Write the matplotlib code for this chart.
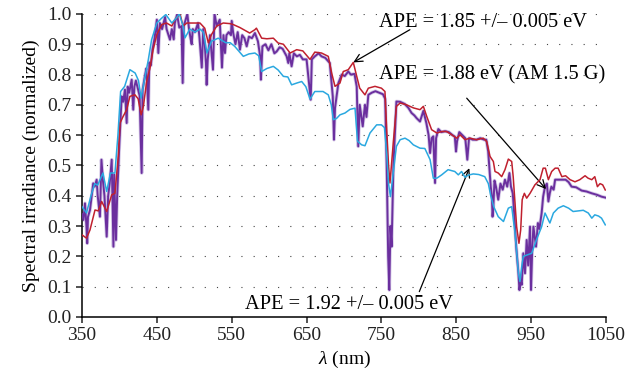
import numpy as np
import matplotlib
matplotlib.use("Agg")
from matplotlib import pyplot as plt

plt.rcParams['font.family'] = ['Liberation Serif', 'DejaVu Serif']
plt.rcParams['mathtext.fontset'] = 'custom'
plt.rcParams['mathtext.it'] = 'Liberation Serif:italic'
plt.rcParams['mathtext.rm'] = 'Liberation Serif'

# spectrum with APE = 1.92 eV (cyan)
wl_cyan = [350, 356, 362, 367, 371, 378, 383, 388, 394, 398, 401.6, 407, 414, 421, 425.5, 429,
           434, 438.6, 443, 450, 456, 462, 470, 476.5, 480, 485, 487.6, 494, 501, 507.6, 512,
           517, 523, 532, 542, 548, 554, 565.5, 573, 581, 586, 590, 597, 605.6, 612, 619, 625,
           630, 637, 643.5, 649, 654.6, 661, 672, 679, 683, 685.7, 690, 694.6, 701.3, 708,
           714.7, 718, 723.6, 728, 734.7, 743.6, 750, 754, 757, 759.5, 762, 765, 770, 775,
           781.5, 787, 792.6, 801.5, 808, 815, 819.3, 824, 830.5, 839, 848, 852.7, 857, 861.6,
           866, 872.7, 880, 888, 892.8, 896, 900, 906, 913, 919.5, 924, 928.5, 933, 935, 937.4,
           939.5, 945, 950.7, 957, 964, 968.5, 973, 975, 979.7, 986, 993, 1000, 1006, 1013,
           1019.6, 1026.3, 1031, 1035, 1040, 1044, 1049]
val_cyan = [0.364, 0.343, 0.40, 0.44, 0.435, 0.475, 0.414, 0.475, 0.475, 0.60, 0.744, 0.761,
            0.816, 0.805, 0.78, 0.722, 0.79, 0.849, 0.915, 0.97, 0.985, 0.998, 0.97, 0.988, 1.0,
            0.96, 0.921, 0.95, 0.94, 0.95, 0.94, 0.871, 0.91, 0.92, 0.905, 0.905, 0.893, 0.86,
            0.868, 0.871, 0.862, 0.81, 0.82, 0.827, 0.815, 0.794, 0.792, 0.766, 0.772, 0.777,
            0.76, 0.719, 0.744, 0.744, 0.733, 0.70, 0.651, 0.655, 0.667, 0.673, 0.685, 0.689,
            0.58, 0.568, 0.565, 0.607, 0.634, 0.634, 0.625, 0.54, 0.44, 0.397, 0.46, 0.563,
            0.585, 0.59, 0.582, 0.568, 0.557, 0.556, 0.519, 0.458, 0.458, 0.469, 0.486, 0.48,
            0.469, 0.48, 0.461, 0.468, 0.472, 0.470, 0.463, 0.44, 0.40, 0.364, 0.331, 0.315,
            0.359, 0.364, 0.276, 0.144, 0.117, 0.166, 0.2, 0.205, 0.21, 0.254, 0.298, 0.343,
            0.32, 0.31, 0.343, 0.359, 0.367, 0.359, 0.348, 0.350, 0.352, 0.343, 0.326, 0.337,
            0.333, 0.326, 0.304]

# spectrum with APE = 1.85 eV (red)
wl_red = [350, 356, 360.7, 367.4, 371.8, 376.3, 383, 389.7, 394, 398.5, 400.8, 405, 409.7, 414,
          420.8, 425, 429, 432, 436.4, 440.8, 445, 450, 456.5, 463, 470, 474, 481, 485, 490,
          498.7, 507.6, 514, 518.7, 523, 530, 538.7, 547.7, 552, 561, 574, 581, 583, 590, 597,
          605.6, 612, 619, 628, 636.8, 645, 654.6, 661, 670, 679, 683.5, 688, 694.6, 699,
          705.7, 712.4, 717, 721, 728, 732.5, 741.4, 750, 754.7, 757, 759.5, 761.4, 765.8,
          770, 775, 783.7, 792.6, 801.5, 806, 810.5, 817, 824, 830.5, 837, 844, 850.5, 855,
          861.6, 868.3, 877, 886, 890.6, 895, 899.5, 901.7, 906, 910.6, 915, 919.5, 924, 926,
          930.6, 933.7, 936, 938, 940.9, 944, 948.5, 955, 961.8, 966, 969, 973, 977.4, 982,
          986, 991, 996, 1002, 1008.5, 1015, 1022, 1026, 1031, 1035, 1038.5, 1042, 1045.5, 1049]
val_red = [0.271, 0.26, 0.287, 0.353, 0.35, 0.381, 0.348, 0.403, 0.408, 0.53, 0.64, 0.662,
           0.684, 0.728, 0.733, 0.72, 0.667, 0.695, 0.777, 0.821, 0.882, 0.932, 0.965, 0.97,
           0.96, 0.981, 1.0, 0.96, 0.97, 0.97, 0.97, 0.953, 0.905, 0.932, 0.96, 0.97, 0.968,
           0.965, 0.955, 0.937, 0.948, 0.953, 0.92, 0.918, 0.92, 0.904, 0.9, 0.871, 0.882,
           0.878, 0.85, 0.874, 0.871, 0.86, 0.805, 0.761, 0.772, 0.81, 0.816, 0.84, 0.794,
           0.755, 0.733, 0.755, 0.761, 0.755, 0.744, 0.62, 0.50, 0.442, 0.574, 0.695, 0.706,
           0.70, 0.69, 0.684, 0.695, 0.662, 0.618, 0.607, 0.612, 0.612, 0.601, 0.59, 0.601,
           0.585, 0.59, 0.585, 0.59, 0.579, 0.53, 0.513, 0.48, 0.475, 0.463, 0.486, 0.521,
           0.513, 0.463, 0.298, 0.243, 0.287, 0.387, 0.408, 0.392, 0.408, 0.436, 0.453, 0.491,
           0.491, 0.453, 0.48, 0.491, 0.491, 0.463, 0.466, 0.453, 0.446, 0.453, 0.466, 0.458,
           0.453, 0.463, 0.43, 0.44, 0.436, 0.419]

# AM 1.5 G reference spectrum, APE = 1.88 eV (purple)
wl_am = [350, 352, 354, 356, 357, 358, 360.7, 363, 365, 367, 369.6, 371, 374, 376, 378, 380,
         383, 385, 387, 389.7, 392, 393, 395.4, 397, 400, 403, 405, 407.4, 409.7, 411, 413,
         416.4, 418.5, 420, 422, 425, 427, 429.7, 431, 434, 436, 438.6, 440, 442, 444, 447,
         450, 452, 454, 457, 461, 463, 467.5, 470, 472.5, 474, 477, 480, 483, 484.5, 486,
         490.7, 493, 495, 496.5, 498, 501, 505, 507, 510, 512, 514, 515.6, 516.5, 518, 521,
         525, 527, 530, 534, 537, 539, 541, 543, 546, 549, 550, 552, 555, 558, 561, 564, 567,
         570, 573, 577, 581, 585, 588, 589, 591, 595, 599, 603, 607, 610, 614, 618, 623.4,
         625.6, 627, 630, 633, 637, 641, 645, 650, 655.5, 657, 661, 666, 670, 675, 681, 685,
         686.6, 688, 692.5, 697, 701, 705.7, 709, 714, 717, 719, 721, 725, 728, 730, 732.5,
         737, 742, 747, 752, 755, 757, 759, 760.5, 762, 763.6, 766, 770, 775, 781, 786, 790.3,
         794, 797, 801.5, 806, 810, 813, 815, 817, 819.3, 821.6, 823, 826, 830, 835, 840, 845,
         848, 849.6, 851, 854, 858, 862, 864.7, 867, 872, 877, 882, 887, 890, 892.6, 894, 896,
         897.5, 898.4, 899.5, 901, 903, 906, 909, 912, 915, 918, 921, 923, 925.4, 927, 930,
         933, 934.3, 936, 937.4, 939.5, 941.8, 944, 946, 948.5, 949.8, 951.5, 953, 956.5, 959,
         961, 964, 966, 968.5, 971, 973, 975, 977, 980, 982, 986, 991, 996, 1000, 1004, 1010,
         1017.5, 1024, 1031, 1038, 1044, 1049]
val_am = [0.34, 0.32, 0.375, 0.298, 0.243, 0.33, 0.353, 0.40, 0.441, 0.43, 0.453, 0.40, 0.331,
          0.519, 0.45, 0.40, 0.265, 0.40, 0.44, 0.519, 0.232, 0.47, 0.254, 0.40, 0.574, 0.728,
          0.71, 0.75, 0.64, 0.76, 0.74, 0.783, 0.684, 0.76, 0.78, 0.75, 0.73, 0.475, 0.75,
          0.794, 0.82, 0.684, 0.84, 0.83, 0.88, 0.92, 0.981, 0.871, 0.97, 0.95, 0.99, 0.95,
          0.915, 0.95, 0.916, 0.97, 0.998, 0.955, 0.96, 0.772, 0.96, 1.0, 0.95, 0.92, 0.90,
          0.95, 0.94, 0.97, 0.92, 0.823, 0.95, 0.90, 0.838, 0.766, 0.85, 0.93, 0.816, 1.0,
          0.96, 0.981, 0.823, 0.93, 0.871, 0.93, 0.94, 0.93, 0.977, 0.937, 0.90, 0.94, 0.882,
          0.93, 0.92, 0.893, 0.925, 0.92, 0.937, 0.91, 0.86, 0.783, 0.893, 0.90, 0.88, 0.90,
          0.87, 0.876, 0.89, 0.885, 0.86, 0.838, 0.87, 0.827, 0.87, 0.86, 0.865, 0.85, 0.85,
          0.717, 0.85, 0.86, 0.87, 0.86, 0.855, 0.838, 0.728, 0.585, 0.69, 0.772, 0.80, 0.795,
          0.81, 0.80, 0.802, 0.76, 0.563, 0.70, 0.629, 0.70, 0.66, 0.733, 0.74, 0.745, 0.74,
          0.735, 0.72, 0.50, 0.20, 0.089, 0.30, 0.232, 0.50, 0.711, 0.71, 0.703, 0.69, 0.673,
          0.665, 0.656, 0.645, 0.68, 0.64, 0.60, 0.541, 0.59, 0.596, 0.442, 0.59, 0.62, 0.61,
          0.613, 0.61, 0.60, 0.595, 0.546, 0.58, 0.61, 0.60, 0.59, 0.519, 0.59, 0.585, 0.585,
          0.59, 0.585, 0.585, 0.546, 0.50, 0.43, 0.40, 0.331, 0.364, 0.45, 0.43, 0.387, 0.44,
          0.42, 0.453, 0.43, 0.475, 0.43, 0.408, 0.353, 0.232, 0.144, 0.089, 0.12, 0.106, 0.21,
          0.144, 0.254, 0.17, 0.298, 0.089, 0.23, 0.298, 0.232, 0.31, 0.29, 0.343, 0.397, 0.43,
          0.44, 0.381, 0.41, 0.43, 0.42, 0.453, 0.453, 0.453, 0.453, 0.445, 0.43, 0.428, 0.417,
          0.414, 0.408, 0.403, 0.397, 0.394]

x_ticks = np.arange(350, 1051, 100)
y_ticks = np.round(np.arange(0, 1.01, 0.1), 1)

fig = plt.figure(figsize=(6.43, 3.87), dpi=100)
ax = fig.add_axes([0.1275, 0.181, 0.815, 0.783])

ax.plot(wl_am, val_am, color='#c4b3de', lw=2.6, zorder=2, alpha=0.7)
ax.plot(wl_am, val_am, color='#6b2f9e', lw=1.4, zorder=3)
ax.plot(wl_red, val_red, color='#c0202e', lw=1.1, zorder=4)
ax.plot(wl_cyan, val_cyan, color='#2aa8e0', lw=1.1, zorder=5)

ax.set_xlim(350, 1050)
ax.set_ylim(0, 1.0)
ax.set_xticks(x_ticks)
ax.set_yticks(y_ticks)
ax.set_yticklabels([f'{t:.1f}' for t in y_ticks])
for t in y_ticks[1:]:
    ax.axhline(t, color='#444444', lw=0.8, ls=(0, (1, 10)), zorder=1)

for side in ('top', 'right'):
    ax.spines[side].set_visible(False)
for side in ('left', 'bottom'):
    ax.spines[side].set_linewidth(1.1)
ax.tick_params(direction='out', length=4, width=1.1, labelsize=14, colors='#222222')

ax.set_xlabel(r'$\mathit{\lambda}$ (nm)', fontsize=14, labelpad=3)
ax.set_ylabel('Spectral irradiance (normalized)', fontsize=14, labelpad=5)

# labels and their pointer arrows
arrow = dict(arrowstyle='->', color='black', lw=0.9, shrinkA=0, shrinkB=0,
             mutation_scale=14)
ax.text(746.7, 0.972, 'APE = 1.85 +/– 0.005 eV', fontsize=14.7, ha='left', va='center',
        zorder=6)
ax.annotate('', xy=(712.4, 0.84), xytext=(788, 0.948), arrowprops=arrow)
ax.text(746.7, 0.80, 'APE = 1.88 eV (AM 1.5 G)', fontsize=14.7, ha='left', va='center',
        zorder=6)
ax.annotate('', xy=(969.8, 0.422), xytext=(863.9, 0.722), arrowprops=arrow)
ax.text(567.7, 0.04, 'APE = 1.92 +/– 0.005 eV', fontsize=14.7, ha='left', va='center',
        zorder=6)
ax.annotate('', xy=(867.4, 0.491), xytext=(800.6, 0.0836), arrowprops=arrow)

fig.savefig('out.png', dpi=100)
